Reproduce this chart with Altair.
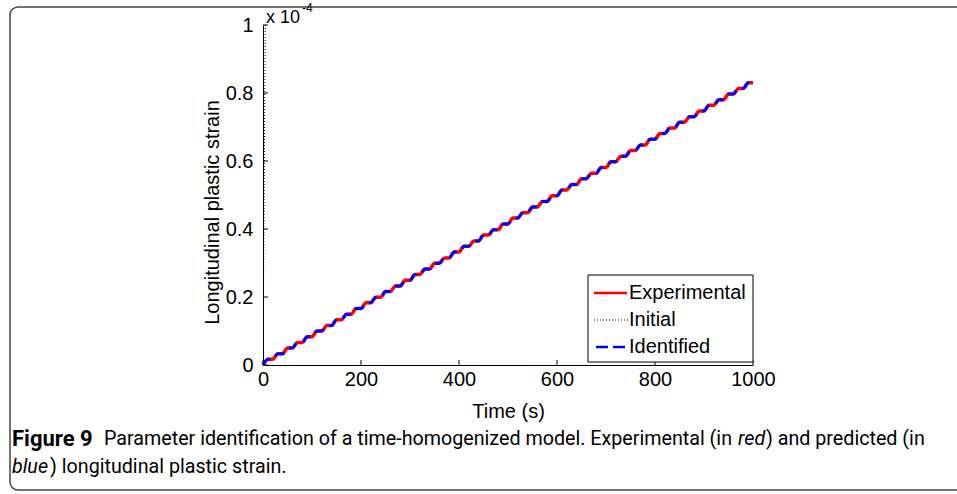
import altair as alt
import pandas as pd

# ---------------- data (strain in units of 1e-4) ----------------
flat_start = [10, 30, 50, 70, 90, 110, 130, 150, 170, 190,
              210, 230, 250, 270, 290, 310, 330, 350, 370, 390,
              410, 430, 450, 470, 490, 510, 530, 550, 570, 590,
              610, 630, 650, 670, 690, 710, 730, 750, 770, 790,
              810, 830, 850, 870, 890, 910, 930, 950, 970, 990]
flat_end = [20, 40, 60, 80, 100, 120, 140, 160, 180, 200,
            220, 240, 260, 280, 300, 320, 340, 360, 380, 400,
            420, 440, 460, 480, 500, 520, 540, 560, 580, 600,
            620, 640, 660, 680, 700, 720, 740, 760, 780, 800,
            820, 840, 860, 880, 900, 920, 940, 960, 980, 1000]
exp_levels = [0.017, 0.033, 0.050, 0.066, 0.083, 0.100, 0.116, 0.133, 0.149, 0.166,
              0.183, 0.199, 0.216, 0.232, 0.249, 0.266, 0.282, 0.299, 0.315, 0.332,
              0.349, 0.365, 0.382, 0.398, 0.415, 0.432, 0.448, 0.465, 0.481, 0.498,
              0.515, 0.531, 0.548, 0.564, 0.581, 0.598, 0.614, 0.631, 0.647, 0.664,
              0.681, 0.697, 0.714, 0.730, 0.747, 0.764, 0.780, 0.797, 0.813, 0.830]
ident_levels = exp_levels
initial_t = [0, 5]
initial_v = [0, 1.1]
x_ticks = [0, 200, 400, 600, 800, 1000]
y_ticks = [0, 0.2, 0.4, 0.6, 0.8, 1.0]


def staircase(levels):
    t, v = [0], [0.0]
    for a, b, lv in zip(flat_start, flat_end, levels):
        t += [a, b]
        v += [lv, lv]
    return t, v


te, ve = staircase(exp_levels)
ti, vi = staircase(ident_levels)
df_exp = pd.DataFrame({"t": te, "v": ve})
df_id = pd.DataFrame({"t": ti, "v": vi})
df_init = pd.DataFrame({"t": initial_t, "v": initial_v})
df_xt = pd.DataFrame({"t": x_ticks})
df_yt = pd.DataFrame({"v": y_ticks})
one = pd.DataFrame({"a": [0]})

# ---------------- layout ----------------
W, H = 490, 340
PL, PT = 263, 25
FONT = "Liberation Sans"
CAP = "Roboto"

x_enc = alt.X("t:Q", scale=alt.Scale(domain=[0, 1000], nice=False, zero=False),
              axis=alt.Axis(values=x_ticks, format="d", ticks=False, grid=False,
                            domainColor="black", domainWidth=1, labelFlush=False,
                            labelFont=FONT, labelFontSize=20, labelColor="black",
                            labelPadding=4, title="Time (s)", titleFont=FONT,
                            titleFontSize=20, titleFontWeight="normal", titleColor="black",
                            titleY=46, titleBaseline="middle"))
y_enc = alt.Y("v:Q", scale=alt.Scale(domain=[0, 1], nice=False),
              axis=alt.Axis(values=y_ticks, format="~g", ticks=False, grid=False,
                            domainColor="black", domainWidth=1, labelFlush=False,
                            labelFont=FONT, labelFontSize=20, labelColor="black",
                            labelPadding=10, title="Longitudinal plastic strain",
                            titleFont=FONT, titleFontSize=20, titleFontWeight="normal",
                            titleColor="black", titleX=-51, titleY=187,
                            titleBaseline="middle", titleAlign="center"))

red = alt.Chart(df_exp).mark_line(color="#ff0000", strokeWidth=3.5, interpolate="monotone").encode(x=x_enc, y=y_enc)
init = alt.Chart(df_init).mark_line(color="black", strokeWidth=1, strokeDash=[1, 2], clip=True).encode(x=x_enc, y=y_enc)
blue = alt.Chart(df_id).mark_line(color="#0000ff", strokeWidth=3, strokeDash=[10, 7], interpolate="monotone").encode(x=x_enc, y=y_enc)

xt = alt.Chart(df_xt).mark_rule(color="black", strokeWidth=1).encode(x=x_enc, y=alt.value(H), y2=alt.value(H - 5))
yt = alt.Chart(df_yt).mark_rule(color="black", strokeWidth=1).encode(y=y_enc, x=alt.value(0), x2=alt.value(5))


def txt(s, x, y, size=20, font=FONT, weight="normal", style="normal", baseline="middle", align="left"):
    return alt.Chart(one).mark_text(text=s, font=font, fontSize=size, fontWeight=weight,
                                    fontStyle=style, baseline=baseline, align=align,
                                    color="black").encode(x=alt.value(x), y=alt.value(y))


def R(X):
    return X - PL


def T(Y):
    return Y - PT


# exponent label
expo = txt("x 10", R(266), T(18), size=18) + txt("-4", R(302), T(8), size=12)

# legend (drawn)
lg_box = alt.Chart(one).mark_rect(fill="white", stroke="black", strokeWidth=1).encode(
    x=alt.value(R(588)), x2=alt.value(R(753)), y=alt.value(T(275)), y2=alt.value(T(362)))
lg_red = alt.Chart(one).mark_rule(color="#ff0000", strokeWidth=2.5).encode(
    x=alt.value(R(594)), x2=alt.value(R(627)), y=alt.value(T(293)))
lg_blk = alt.Chart(one).mark_rule(color="black", strokeWidth=1, strokeDash=[1, 2]).encode(
    x=alt.value(R(594)), x2=alt.value(R(628)), y=alt.value(T(320)))
lg_blu = alt.Chart(one).mark_rule(color="#0000ff", strokeWidth=2.5, strokeDash=[12, 5]).encode(
    x=alt.value(R(596)), x2=alt.value(R(626)), y=alt.value(T(347)))
legend = (lg_box + lg_red + lg_blk + lg_blu
          + txt("Experimental", R(629), T(293)) + txt("Initial", R(629), T(320))
          + txt("Identified", R(629), T(347)))

# frame + caption
frame = alt.Chart(one).mark_rect(fillOpacity=0, fill="white", stroke="#444444", strokeWidth=1.5,
                                 cornerRadius=8).encode(
    x=alt.value(R(10)), x2=alt.value(R(1010)), y=alt.value(T(7)), y2=alt.value(T(490)))
cap = (txt("Figure 9", R(12), T(439), font=CAP, weight="bold", size=22)
       + txt("Parameter identification of a time-homogenized model. Experimental (in ", R(104), T(439), font=CAP, size=19.7)
       + txt("red", R(738), T(439), font=CAP, style="italic", size=19.7)
       + txt(") and predicted (in", R(766), T(439), font=CAP, size=19.7)
       + txt("blue", R(12), T(467), font=CAP, style="italic", size=19.7)
       + txt(") longitudinal plastic strain.", R(50), T(467), font=CAP, size=19.7))

chart = alt.layer(frame, red, init, blue, xt, yt, legend, expo, cap).properties(
    width=W, height=H,
    autosize=alt.AutoSizeParams(type="none"),
    padding={"left": PL, "top": PT, "right": 957 - PL - W, "bottom": 494 - PT - H},
    background="white",
).configure_view(stroke=None)

chart.save("out.html", embed_options={"renderer": "svg", "actions": False})
